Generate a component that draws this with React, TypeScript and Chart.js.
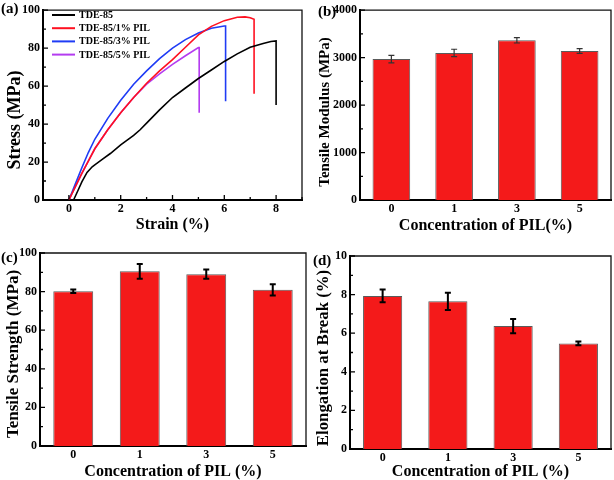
import React, { useEffect, useRef } from "react";
import { Chart, registerables } from "chart.js";
Chart.register(...registerables);

// ---------- Panel (a): stress–strain curves ----------
const strainTDE85 = [0.18, 0.35, 0.5, 0.7, 0.9, 1.0, 1.3, 1.6, 2.0, 2.25, 2.5, 2.75, 3.0, 3.5, 4.0, 4.5, 5.0, 5.5, 6.0, 6.5, 7.0, 7.5, 7.8, 8.0, 8.0];
const stressTDE85 = [0, 5, 9.5, 14.5, 17.5, 18.5, 21.5, 24.5, 29, 31.5, 34, 37, 40.5, 47.5, 54, 59, 64, 68.5, 73, 77, 80.5, 82.5, 83.5, 83.8, 50];

const strainPIL1 = [0, 0.25, 0.5, 0.75, 1.0, 1.5, 2.0, 2.5, 3.0, 3.5, 4.0, 4.5, 5.0, 5.5, 6.0, 6.5, 6.8, 7.0, 7.15, 7.15];
const stressPIL1 = [0, 7, 14, 20.5, 27, 37, 46, 54, 61.5, 68, 74, 80.5, 87, 91.5, 94.5, 96.3, 96.5, 96, 95.2, 56];

const strainPIL3 = [0, 0.25, 0.5, 0.75, 1.0, 1.5, 2.0, 2.5, 3.0, 3.5, 4.0, 4.5, 5.0, 5.5, 6.0, 6.05, 6.05];
const stressPIL3 = [0, 8.5, 17, 25, 32, 43, 52.5, 61, 68, 74.5, 80, 84.5, 88, 90.5, 91.7, 91.7, 52];

const strainPIL5 = [0, 0.25, 0.5, 0.75, 1.0, 1.5, 2.0, 2.5, 3.0, 3.5, 4.0, 4.5, 5.0, 5.03, 5.03];
const stressPIL5 = [0, 7, 14, 20.5, 27, 37, 46, 54, 61, 66.5, 71.5, 76, 80.3, 80.3, 46];

const seriesNames = ["TDE-85", "TDE-85/1% PIL", "TDE-85/3% PIL", "TDE-85/5% PIL"];

// ---------- Panels (b)-(d): bar charts ----------
const concCategories = ["0", "1", "3", "5"];
const modulusValues = [2970, 3100, 3365, 3140];
const modulusErrors = [80, 77, 56, 52];
const strengthValues = [80.2, 90.5, 89.0, 80.9];
const strengthErrors = [0.9, 3.8, 2.4, 2.9];
const elongationValues = [7.93, 7.65, 6.37, 5.47];
const elongationErrors = [0.33, 0.45, 0.37, 0.1];

const FONT = "'Liberation Serif', 'Times New Roman', serif";
const BAR_RED = "#f41a1a";

const pts = (xs: number[], ys: number[]) => xs.map((x, i) => ({ x, y: ys[i] }));

const decoPlugin = {
  id: "deco",
  afterDatasetsDraw(chart: any, _args: any, opts: any) {
    const ctx = chart.ctx;
    const { left, right, top, bottom } = chart.chartArea;
    const xs = chart.scales.x;
    const ys = chart.scales.y;
    ctx.save();
    // error bars
    if (opts.values && opts.errors) {
      const meta = chart.getDatasetMeta(0);
      ctx.strokeStyle = opts.errColor || "#000";
      ctx.lineWidth = opts.errWidth || 1.5;
      const cap = opts.cap || 3;
      opts.values.forEach((v: number, i: number) => {
        const el = meta.data[i];
        const x = el.x;
        const y1 = ys.getPixelForValue(v + opts.errors[i]);
        const y2 = ys.getPixelForValue(v - opts.errors[i]);
        ctx.beginPath();
        ctx.moveTo(x, y1);
        ctx.lineTo(x, y2);
        ctx.moveTo(x - cap, y1);
        ctx.lineTo(x + cap, y1);
        ctx.moveTo(x - cap, y2);
        ctx.lineTo(x + cap, y2);
        ctx.stroke();
      });
    }
    // top / right frame
    ctx.strokeStyle = "#111";
    ctx.lineWidth = 1.3;
    ctx.beginPath();
    ctx.moveTo(left, top);
    ctx.lineTo(right, top);
    ctx.lineTo(right, bottom);
    ctx.stroke();
    // inward ticks
    ctx.strokeStyle = "#000";
    ctx.lineWidth = 1.3;
    ctx.beginPath();
    ys.ticks.forEach((t: any, i: number) => {
      const y = ys.getPixelForTick(i);
      const major = t.label !== "" && t.label != null;
      ctx.moveTo(left, y);
      ctx.lineTo(left + (major ? 5 : 3), y);
    });
    if (xs.type === "linear") {
      xs.ticks.forEach((t: any, i: number) => {
        const x = xs.getPixelForTick(i);
        const major = t.label !== "" && t.label != null;
        ctx.moveTo(x, bottom);
        ctx.lineTo(x, bottom - (major ? 5 : 3));
      });
    }
    ctx.stroke();
    ctx.fillStyle = "#000";
    // y-axis title
    if (opts.yTitle) {
      ctx.save();
      ctx.translate(opts.yTitle.x, opts.yTitle.y);
      ctx.rotate(-Math.PI / 2);
      ctx.font = `bold ${opts.yTitle.size}px ${FONT}`;
      ctx.textAlign = "center";
      ctx.textBaseline = "middle";
      ctx.fillText(opts.yTitle.text, 0, 0);
      ctx.restore();
    }
    // panel label
    if (opts.label) {
      ctx.font = `bold 15px ${FONT}`;
      ctx.textBaseline = "middle";
      ctx.textAlign = "left";
      ctx.fillText(opts.label, opts.lx, opts.ly);
    }
    // legend
    if (opts.legend) {
      const { x0, y0, step, lineLen, gap } = opts.legend;
      ctx.font = `bold 10px ${FONT}`;
      ctx.textBaseline = "middle";
      ctx.textAlign = "left";
      chart.data.datasets.forEach((ds: any, i: number) => {
        const y = y0 + i * step;
        ctx.strokeStyle = ds.borderColor;
        ctx.lineWidth = 2;
        ctx.beginPath();
        ctx.moveTo(x0, y);
        ctx.lineTo(x0 + lineLen, y);
        ctx.stroke();
        ctx.fillStyle = "#000";
        ctx.fillText(ds.label, x0 + lineLen + gap, y + 0.5);
      });
    }
    ctx.restore();
  },
};

type PanelProps = {
  left: number;
  top: number;
  width: number;
  height: number;
  build: () => any;
};

function Panel({ left, top, width, height, build }: PanelProps) {
  const ref = useRef<HTMLCanvasElement | null>(null);
  useEffect(() => {
    if (!ref.current) return;
    const chart = new Chart(ref.current, build());
    return () => chart.destroy();
  }, []);
  return (
    <canvas
      ref={ref}
      width={width}
      height={height}
      style={{ position: "absolute", left, top, width, height, display: "block" }}
    />
  );
}

const tickFont = { family: FONT, size: 12, weight: "bold" as const };

function yAxis(min: number, max: number, step: number, labelEvery: number, axisWidth: number, tickPad: number) {
  return {
    type: "linear",
    min,
    max,
    afterFit: (s: any) => {
      s.width = axisWidth;
    },
    grid: { display: false, drawTicks: false },
    border: { display: true, width: 2, color: "#000" },
    ticks: {
      stepSize: step,
      autoSkip: false,
      padding: tickPad,
      color: "#000",
      font: tickFont,
      callback: (v: number) => (Math.abs(v % labelEvery) < 1e-9 ? String(v) : ""),
    },
    title: { display: false },
  };
}

function xTitle(text: string, pad: number) {
  return {
    display: true,
    text,
    color: "#000",
    font: { family: FONT, size: 16, weight: "bold" },
    padding: { top: 0, bottom: pad },
  };
}

function buildA() {
  const colors = ["#000000", "#ff1020", "#1f3cf5", "#b43cf0"];
  const data = [
    pts(strainTDE85, stressTDE85),
    pts(strainPIL1, stressPIL1),
    pts(strainPIL3, stressPIL3),
    pts(strainPIL5, stressPIL5),
  ];
  return {
    type: "line",
    data: {
      datasets: data.map((d, i) => ({
        label: seriesNames[i],
        data: d,
        borderColor: colors[i],
        backgroundColor: colors[i],
        borderWidth: 1.6,
        pointRadius: 0,
        tension: 0,
        fill: false,
      })),
    },
    options: {
      responsive: false,
      animation: false,
      devicePixelRatio: 1,
      layout: { padding: { top: 7, right: 5, left: 0, bottom: 0 } },
      plugins: {
        legend: { display: false },
        tooltip: { enabled: false },
        deco: {
          label: "(a)",
          lx: 1,
          ly: 9,
          yTitle: { text: "Stress (MPa)", x: 15, y: 120, size: 18 },
          legend: { x0: 52, y0: 15, step: 13.2, lineLen: 23, gap: 4 },
        },
      },
      scales: {
        x: {
          type: "linear",
          min: -1,
          max: 9,
          afterFit: (s: any) => {
            s.height = 40;
          },
          grid: { display: false, drawTicks: false },
          border: { display: true, width: 2, color: "#000" },
          ticks: {
            stepSize: 1,
            autoSkip: false,
            maxRotation: 0,
            padding: 2,
            color: "#000",
            font: tickFont,
            callback: (v: number) => (v >= 0 && v <= 8 && v % 2 === 0 ? String(v) : ""),
          },
          title: xTitle("Strain (%)", 6),
        },
        y: yAxis(0, 100, 10, 20, 43, 3),
      },
    },
    plugins: [decoPlugin],
  };
}

function buildBar(opts: {
  values: number[];
  errors: number[];
  max: number;
  step: number;
  labelEvery: number;
  yTitle: { text: string; x: number; y: number; size: number };
  xTitleText: string;
  axisWidth: number;
  xHeight: number;
  padTop: number;
  padRight: number;
  xTitlePad: number;
  label: string;
  lx: number;
  ly: number;
  errColor: string;
  errWidth: number;
  cap: number;
}) {
  return {
    type: "bar",
    data: {
      labels: concCategories,
      datasets: [
        {
          data: opts.values,
          backgroundColor: BAR_RED,
          borderColor: "#5a5a5a",
          borderWidth: 1,
          barPercentage: 0.6,
          categoryPercentage: 1,
        },
      ],
    },
    options: {
      responsive: false,
      animation: false,
      devicePixelRatio: 1,
      layout: { padding: { top: opts.padTop, right: opts.padRight, left: 0, bottom: 0 } },
      plugins: {
        legend: { display: false },
        tooltip: { enabled: false },
        deco: {
          values: opts.values,
          errors: opts.errors,
          errColor: opts.errColor,
          errWidth: opts.errWidth,
          cap: opts.cap,
          label: opts.label,
          lx: opts.lx,
          ly: opts.ly,
          yTitle: opts.yTitle,
        },
      },
      scales: {
        x: {
          type: "category",
          offset: true,
          afterFit: (s: any) => {
            s.height = opts.xHeight;
          },
          grid: { display: false, drawTicks: false },
          border: { display: true, width: 2, color: "#000" },
          ticks: { padding: 2, color: "#000", font: tickFont, maxRotation: 0 },
          title: xTitle(opts.xTitleText, opts.xTitlePad),
        },
        y: yAxis(0, opts.max, opts.step, opts.labelEvery, opts.axisWidth, 3),
      },
    },
    plugins: [decoPlugin],
  };
}

export default function App() {
  return (
    <div style={{ position: "absolute", left: 0, top: 0, width: 614, height: 480, background: "#fff" }}>
      <Panel left={0} top={0} width={307} height={240} build={buildA} />
      <Panel
        left={307}
        top={0}
        width={307}
        height={240}
        build={() =>
          buildBar({
            values: modulusValues,
            errors: modulusErrors,
            max: 4000,
            step: 500,
            labelEvery: 1000,
            yTitle: { text: "Tensile Modulus (MPa)", x: 18, y: 112, size: 15 },
            xTitleText: "Concentration of PIL(%)",
            axisWidth: 53,
            xHeight: 40,
            padTop: 10,
            padRight: 3,
            xTitlePad: 5,
            label: "(b)",
            lx: 11,
            ly: 12,
            errColor: "#333",
            errWidth: 1.2,
            cap: 3,
          })
        }
      />
      <Panel
        left={0}
        top={240}
        width={307}
        height={240}
        build={() =>
          buildBar({
            values: strengthValues,
            errors: strengthErrors,
            max: 100,
            step: 10,
            labelEvery: 20,
            yTitle: { text: "Tensile Strength (MPa)", x: 14, y: 114, size: 17 },
            xTitleText: "Concentration of PIL (%)",
            axisWidth: 40,
            xHeight: 34,
            padTop: 13,
            padRight: 1,
            xTitlePad: -1,
            label: "(c)",
            lx: 1,
            ly: 18,
            errColor: "#000",
            errWidth: 2,
            cap: 3,
          })
        }
      />
      <Panel
        left={307}
        top={240}
        width={307}
        height={240}
        build={() =>
          buildBar({
            values: elongationValues,
            errors: elongationErrors,
            max: 10,
            step: 1,
            labelEvery: 2,
            yTitle: { text: "Elongation at Break (%)", x: 17, y: 118, size: 16.8 },
            xTitleText: "Concentration of PIL (%)",
            axisWidth: 43,
            xHeight: 31,
            padTop: 16,
            padRight: 3,
            xTitlePad: -1,
            label: "(d)",
            lx: 6,
            ly: 21,
            errColor: "#000",
            errWidth: 2,
            cap: 3,
          })
        }
      />
    </div>
  );
}
